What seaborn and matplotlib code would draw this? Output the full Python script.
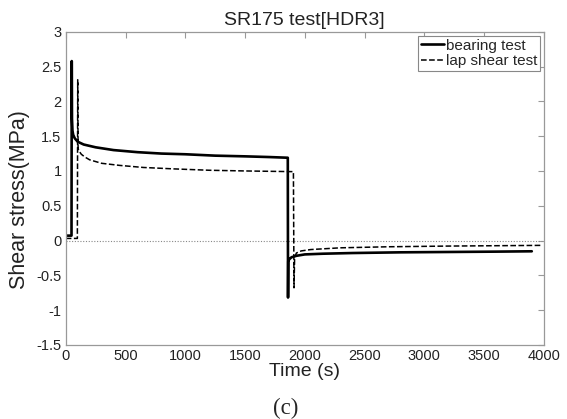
import matplotlib
matplotlib.use("Agg")
import matplotlib.pyplot as plt
import seaborn as sns
import pandas as pd

# bearing test (solid)
bearing_t = [0, 48, 50, 52, 56, 62, 75, 100, 150, 250, 400, 600, 800, 1000,
             1250, 1500, 1700, 1858, 1860, 1862, 1870, 1890, 1930, 2000,
             2150, 2400, 2800, 3200, 3600, 3900]
bearing_y = [0.07, 0.07, 2.58, 1.75, 1.58, 1.52, 1.47, 1.42, 1.38, 1.34,
             1.30, 1.27, 1.25, 1.24, 1.22, 1.21, 1.20, 1.19, -0.82, -0.30,
             -0.27, -0.24, -0.22, -0.20, -0.19, -0.18, -0.17, -0.165, -0.16,
             -0.155]

# lap shear test (dashed)
lap_t = [0, 97, 100, 103, 110, 130, 160, 200, 300, 450, 650, 900, 1200,
         1500, 1905, 1910, 1915, 1930, 1970, 2050, 2300, 2700, 3200, 3980]
lap_y = [0.03, 0.03, 2.31, 1.32, 1.29, 1.24, 1.20, 1.16, 1.11, 1.08, 1.05,
         1.03, 1.01, 1.00, 0.99, -0.68, -0.25, -0.18, -0.15, -0.13, -0.105,
         -0.09, -0.08, -0.07]

x_ticks = [0, 500, 1000, 1500, 2000, 2500, 3000, 3500, 4000]
y_ticks = [-1.5, -1, -0.5, 0, 0.5, 1, 1.5, 2, 2.5, 3]

sns.set_style("white")
plt.rcParams["font.family"] = ["Liberation Sans", "DejaVu Sans"]

bearing = pd.DataFrame({"t": bearing_t, "stress": bearing_y})
lap = pd.DataFrame({"t": lap_t, "stress": lap_y})

fig = plt.figure(figsize=(5.67, 4.19), dpi=100)
ax = fig.add_axes([0.116, 0.177, 0.843, 0.747])

ax.axhline(0, color="#888888", lw=0.8, ls=(0, (1, 1.5)), zorder=1)

sns.lineplot(data=bearing, x="t", y="stress", ax=ax, color="black",
             lw=1.9, estimator=None, sort=False, label="bearing test")
sns.lineplot(data=lap, x="t", y="stress", ax=ax, color="black",
             lw=1.1, ls="--", estimator=None, sort=False, label="lap shear test")

ax.set_xlim(0, 4000)
ax.set_ylim(-1.5, 3)
ax.set_xticks(x_ticks)
ax.set_yticks(y_ticks)
ax.set_xticklabels([str(v) for v in x_ticks])
ax.set_yticklabels([f"{v:g}" for v in y_ticks])

for s in ax.spines.values():
    s.set_color("#999999")
    s.set_linewidth(0.9)
ax.tick_params(direction="in", length=4, width=0.8, color="#999999",
               top=True, right=True, labelsize=10.5, pad=3, labelcolor="#222222")

ax.set_xlabel("Time (s)", fontsize=14, labelpad=0, color="#222222")
ax.set_ylabel("Shear stress(MPa)", fontsize=15.5, labelpad=2, color="#222222")
ax.yaxis.set_label_coords(-0.075, 0.465)
ax.set_title("SR175 test[HDR3]", fontsize=14, pad=5, color="#222222")

leg = ax.legend(loc="upper right", fontsize=11, handlelength=1.5,
                handletextpad=0.1, borderpad=0.2, labelspacing=0.1,
                borderaxespad=0.25, fancybox=False, framealpha=1)
leg.get_frame().set_edgecolor("#888888")
leg.get_frame().set_linewidth(0.8)

fig.text(0.503, 0.0, "(c)", ha="center", va="bottom", fontsize=16.5,
         family=["Liberation Serif", "DejaVu Serif"])

fig.savefig("out.png", dpi=100)
